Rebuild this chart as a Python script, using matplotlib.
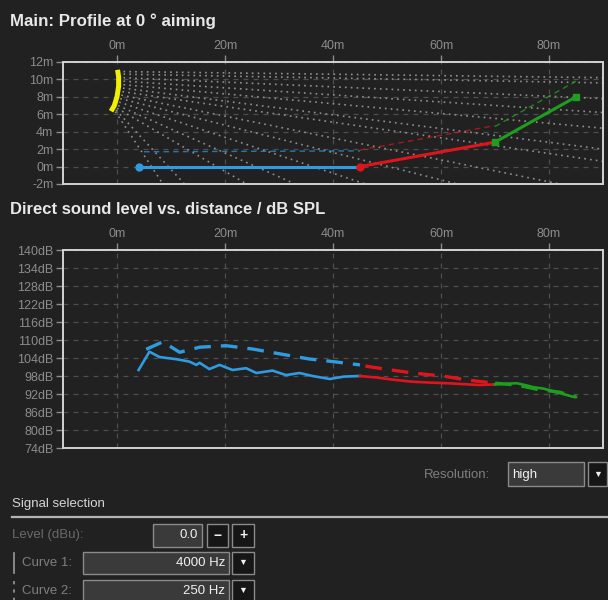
import matplotlib
matplotlib.use("Agg")
import matplotlib.pyplot as plt
from matplotlib.patches import Rectangle

plt.rcParams['font.family'] = ['Liberation Sans', 'DejaVu Sans']

BG = '#212121'
FRAME = '#d2d2d2'
TICK = '#8c8c8c'
GRID = '#4e4e4e'
BLUE = '#2f9be0'
RED = '#e0141c'
GREEN = '#1e9e1e'
YELLOW = '#f0f000'
RAY = '#909090'

# ---------------- profile data (metres) ----------------
x_ticks = [0, 20, 40, 60, 80]
x_tick_labels = ['0m', '20m', '40m', '60m', '80m']
prof_y_ticks = [-2, 0, 2, 4, 6, 8, 10, 12]
prof_y_labels = ['-2m', '0m', '2m', '4m', '6m', '8m', '10m', '12m']

array_x = [0.1, 0.3, 0.3, 0.0, -0.5, -1.1]
array_y = [11.1, 10.3, 9.2, 8.0, 7.0, 6.35]

ray_start_x = [1.2, 1.2, 1.2, 1.2, 1.2, 1.1, 1.0, 0.8, 0.6, 0.4, 0.2, 0.0, -0.2, -0.3]
ray_start_y = [10.9, 10.6, 10.2, 9.8, 9.4, 9.0, 8.6, 8.2, 7.8, 7.4, 7.0, 6.7, 6.5, 6.3]
ray_end_x = [90, 90, 90, 90, 90, 90, 90, 82, 63, 46, 33, 24, 12.5, 8.5]
ray_end_y = [10.2, 9.6, 7.8, 6.2, 4.4, 2.0, 0.6, -2, -2, -2, -2, -2, -2, -2]

zone_blue_x = [4, 45]
zone_blue_y = [0.0, 0.0]
zone_red_x = [45, 70]
zone_red_y = [0.0, 2.8]
zone_green_x = [70, 85]
zone_green_y = [2.8, 8.0]

ear_blue_x = [5, 45]
ear_blue_y = [1.7, 1.8]
ear_red_x = [45, 70]
ear_red_y = [1.9, 4.7]
ear_green_x = [70, 85]
ear_green_y = [4.6, 9.8]

# ---------------- SPL data (dB) ----------------
spl_y_ticks = [74, 80, 86, 92, 98, 104, 110, 116, 122, 128, 134, 140]
spl_y_labels = ['74dB', '80dB', '86dB', '92dB', '98dB', '104dB', '110dB',
                '116dB', '122dB', '128dB', '134dB', '140dB']

c1_blue_x = [4.0, 6.0, 7.9, 11.0, 13.4, 14.7, 15.3, 17.1, 19.0, 21.4, 23.9,
             25.8, 28.8, 31.3, 33.8, 36.2, 39.4, 42.0, 45.0]
c1_blue_y = [100.0, 106.1, 104.3, 103.6, 102.8, 101.7, 102.4, 100.3, 101.7,
             100.0, 100.6, 99.0, 99.8, 98.3, 99.0, 98.0, 97.0, 97.8, 98.0]
c1_red_x = [45, 48, 51, 54.7, 58, 61, 64, 67.1, 70]
c1_red_y = [98.0, 97.5, 96.8, 96.1, 95.8, 95.6, 95.3, 95.0, 95.2]
c1_green_x = [70, 72, 74, 76, 77, 79, 80, 82, 84.4, 85]
c1_green_y = [95.2, 95.4, 95.6, 94.8, 94.3, 93.8, 93.3, 92.3, 91.1, 91.0]

c2_blue_x = [5.4, 8.5, 11.6, 15.3, 20.2, 25.1, 30.4, 35.5, 40.0, 45.0]
c2_blue_y = [106.9, 109.4, 105.9, 107.6, 108.1, 107.0, 105.3, 103.7, 102.8, 101.7]
c2_red_x = [46, 50, 54.8, 58, 61, 64.7, 70]
c2_red_y = [101.3, 100.2, 99.0, 98.4, 97.8, 96.7, 95.6]
c2_green_x = [70, 74, 78, 82, 85]
c2_green_y = [95.6, 95.0, 93.5, 92.6, 91.0]

W, H = 608, 600
fig = plt.figure(figsize=(W / 100, H / 100), dpi=100, facecolor=BG)


def px_axes(left, top, right, bottom):
    return fig.add_axes([left / W, 1 - bottom / H, (right - left) / W, (bottom - top) / H])


def style_axes(ax, xlim, ylim, yticks, ylabels):
    ax.set_facecolor(BG)
    ax.set_xlim(*xlim)
    ax.set_ylim(*ylim)
    ax.xaxis.tick_top()
    ax.set_xticks(x_ticks)
    ax.set_xticklabels(x_tick_labels)
    ax.set_yticks(yticks)
    ax.set_yticklabels(ylabels)
    ax.tick_params(colors=TICK, labelcolor=TICK, labelsize=9, length=5, width=1, pad=2)
    for s in ax.spines.values():
        s.set_color(FRAME)
        s.set_linewidth(1.4)
    ax.grid(True, color=GRID, linestyle=(0, (4, 4)), linewidth=0.9)
    ax.set_axisbelow(True)


# ---------------- profile view ----------------
ax1 = px_axes(63, 62, 603, 184)
style_axes(ax1, (-10, 90), (-2, 12), prof_y_ticks, prof_y_labels)

for xs, ys, xe, ye in zip(ray_start_x, ray_start_y, ray_end_x, ray_end_y):
    ax1.plot([xs, xe], [ys, ye], color=RAY, lw=1.2, linestyle=(0, (1, 2.5)), zorder=2)

ax1.plot(ear_blue_x, ear_blue_y, color=BLUE, lw=1.0, linestyle=(0, (4, 3)), alpha=0.7, zorder=3)
ax1.plot(ear_red_x, ear_red_y, color=RED, lw=1.0, linestyle=(0, (4, 3)), alpha=0.7, zorder=3)
ax1.plot(ear_green_x, ear_green_y, color=GREEN, lw=1.0, linestyle=(0, (4, 3)), alpha=0.8, zorder=3)

ax1.plot(zone_blue_x, zone_blue_y, color=BLUE, lw=2.2, zorder=4)
ax1.plot(zone_red_x, zone_red_y, color=RED, lw=2.2, zorder=4)
ax1.plot(zone_green_x, zone_green_y, color=GREEN, lw=2.2, zorder=4)
ax1.plot(zone_blue_x[:1], zone_blue_y[:1], 'o', color=BLUE, ms=5, zorder=5)
ax1.plot(zone_red_x[:1], zone_red_y[:1], 'o', color=RED, ms=5, zorder=5)
ax1.plot(zone_green_x[:1], zone_green_y[:1], 's', color=GREEN, ms=5, zorder=5)
ax1.plot(zone_green_x[-1:], zone_green_y[-1:], 's', color=GREEN, ms=5, zorder=5)

ax1.plot(array_x, array_y, color=YELLOW, lw=3.6, solid_capstyle='butt', zorder=6)

# ---------------- SPL vs distance ----------------
ax2 = px_axes(63, 250, 603, 448)
style_axes(ax2, (-10, 90), (74, 140), spl_y_ticks, spl_y_labels)

dash = (0, (5, 3))
ax2.plot(c2_blue_x, c2_blue_y, color=BLUE, lw=2.4, linestyle=dash, zorder=3)
ax2.plot(c2_red_x, c2_red_y, color=RED, lw=2.4, linestyle=dash, zorder=3)
ax2.plot(c2_green_x, c2_green_y, color=GREEN, lw=2.4, linestyle=dash, zorder=3)
ax2.plot(c1_blue_x, c1_blue_y, color=BLUE, lw=1.9, zorder=4)
ax2.plot(c1_red_x, c1_red_y, color=RED, lw=1.9, zorder=4)
ax2.plot(c1_green_x, c1_green_y, color=GREEN, lw=1.9, zorder=4)

# ---------------- titles and controls ----------------
ui = fig.add_axes([0, 0, 1, 1], zorder=-1)
ui.set_xlim(0, W)
ui.set_ylim(H, 0)
ui.axis('off')

ui.text(10, 21, 'Main: Profile at 0 ° aiming', color='#e8e8e8', fontsize=12.2,
        fontweight='bold', va='center', ha='left')
ui.text(10, 209, 'Direct sound level vs. distance / dB SPL', color='#e8e8e8',
        fontsize=12, fontweight='bold', va='center', ha='left')


def box(x0, y0, x1, y1, face='#3a3a3a', edge='#8a8a8a'):
    ui.add_patch(Rectangle((x0, y0), x1 - x0, y1 - y0, facecolor=face,
                           edgecolor=edge, lw=1.0))


FS = 9.5
LABEL = '#7e7e7e'
ui.text(490, 475, 'Resolution:', color=LABEL, fontsize=FS, va='center', ha='right')
box(508, 462, 584, 486)
ui.text(512, 475, 'high', color='#f0f0f0', fontsize=FS, va='center', ha='left')
box(588, 462, 607, 486, face='#161616')
ui.text(597.5, 474, '▼', color='#f0f0f0', fontsize=6.5, va='center', ha='center')

ui.text(12, 504, 'Signal selection', color='#d6d6d6', fontsize=FS, va='center', ha='left')
ui.plot([12, 608], [517, 517], color='#b4b4b4', lw=1.6)

ui.text(12, 535, 'Level (dBu):', color='#6a6a6a', fontsize=FS, va='center', ha='left')
box(153, 524, 202, 547)
ui.text(198, 535.5, '0.0', color='#f0f0f0', fontsize=FS, va='center', ha='right')
box(207, 524, 228, 547, face='#161616')
ui.text(217.5, 535.5, '−', color='#f0f0f0', fontsize=10, fontweight='bold', va='center', ha='center')
box(232, 524, 254, 547, face='#161616')
ui.text(243, 535.5, '+', color='#f0f0f0', fontsize=10, fontweight='bold', va='center', ha='center')

ui.plot([14, 14], [553, 573], color='#9a9a9a', lw=1.2)
ui.text(22, 563, 'Curve 1:', color=LABEL, fontsize=FS, va='center', ha='left')
box(83, 552, 229, 574)
ui.text(225, 563, '4000 Hz', color='#f0f0f0', fontsize=FS, va='center', ha='right')
box(232, 552, 254, 574, face='#161616')
ui.text(243, 562.5, '▼', color='#f0f0f0', fontsize=6.5, va='center', ha='center')

ui.plot([14, 14], [581, 600], color='#9a9a9a', lw=1.2, linestyle=(0, (2, 3)))
ui.text(22, 591, 'Curve 2:', color=LABEL, fontsize=FS, va='center', ha='left')
box(83, 580, 229, 603)
ui.text(225, 591, '250 Hz', color='#f0f0f0', fontsize=FS, va='center', ha='right')
box(232, 580, 254, 603, face='#161616')
ui.text(243, 590.5, '▼', color='#f0f0f0', fontsize=6.5, va='center', ha='center')

fig.savefig('out.png', dpi=100, facecolor=BG)
